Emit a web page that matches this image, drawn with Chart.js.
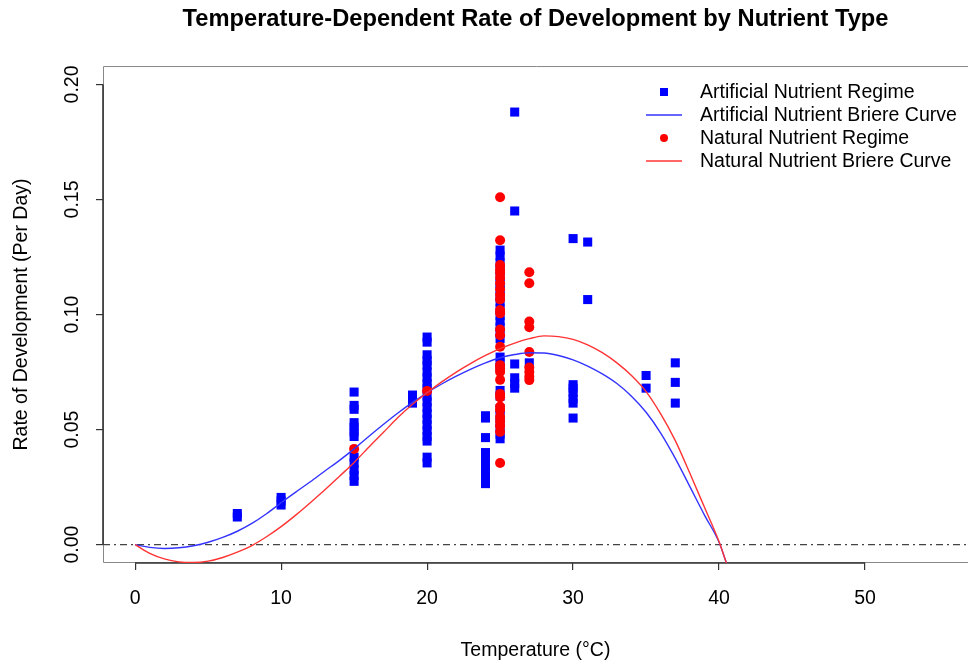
<!DOCTYPE html>
<html>
<head>
<meta charset="utf-8">
<script src="https://cdn.jsdelivr.net/npm/chart.js@4.4.1/dist/chart.umd.min.js"></script>
<style>
  html, body { margin: 0; padding: 0; background: #ffffff; }
  #wrap { width: 968px; height: 667px; }
</style>
</head>
<body>
<div id="wrap"><canvas id="c" width="968" height="667"></canvas></div>
<script>
// ---------------- DATA ----------------
const TITLE = "Temperature-Dependent Rate of Development by Nutrient Type";
const X_TITLE = "Temperature (°C)";
const Y_TITLE = "Rate of Development (Per Day)";

const X_TICKS = [0, 10, 20, 30, 40, 50];
const X_TICK_LABELS = ["0", "10", "20", "30", "40", "50"];
const Y_TICKS = [0, 0.05, 0.10, 0.15, 0.20];
const Y_TICK_LABELS = ["0.00", "0.05", "0.10", "0.15", "0.20"];

const LEGEND_LABELS = [
  "Artificial Nutrient Regime",
  "Artificial Nutrient Briere Curve",
  "Natural Nutrient Regime",
  "Natural Nutrient Briere Curve"
];

// Artificial nutrient regime observations (temperature, rate)
const ART_T = [
  7, 7,
  10, 10, 10,
  15, 15, 15, 15, 15, 15, 15, 15, 15, 15, 15, 15,
  19, 19,
  20, 20, 20, 20, 20, 20, 20, 20, 20, 20, 20, 20, 20, 20, 20, 20, 20, 20, 20, 20,
  24, 24, 24, 24, 24, 24, 24, 24, 24, 24,
  25, 25, 25, 25, 25, 25, 25, 25, 25, 25, 25, 25, 25, 25, 25, 25, 25, 25, 25, 25, 25, 25, 25, 25, 25, 25,
  26, 26, 26, 26, 26, 26,
  27,
  30, 30, 30, 30, 30, 30, 30,
  31, 31,
  35, 35,
  37, 37, 37
];
const ART_V = [
  0.0135, 0.0120,
  0.0205, 0.0190, 0.0172,
  0.0663, 0.0605, 0.0588, 0.0530, 0.0510, 0.0490, 0.0470, 0.0380, 0.0355, 0.0325, 0.0300, 0.0275,
  0.0650, 0.0615,
  0.0902, 0.0880, 0.0825, 0.0800, 0.0780, 0.0750, 0.0725, 0.0700, 0.0680, 0.0645, 0.0620, 0.0595, 0.0570, 0.0545, 0.0520, 0.0495, 0.0470, 0.0450, 0.0380, 0.0355,
  0.0560, 0.0550, 0.0465, 0.0400, 0.0375, 0.0350, 0.0330, 0.0300, 0.0280, 0.0265,
  0.1280, 0.1255, 0.1225, 0.1195, 0.1165, 0.1135, 0.1110, 0.1080, 0.1055, 0.1025, 0.0995, 0.0970, 0.0945, 0.0920, 0.0895, 0.0815, 0.0790, 0.0770, 0.0670, 0.0645, 0.0590, 0.0560, 0.0530, 0.0505, 0.0480, 0.0460,
  0.1880, 0.1450, 0.0785, 0.0725, 0.0700, 0.0680,
  0.0790,
  0.1330, 0.0695, 0.0680, 0.0660, 0.0635, 0.0615, 0.0550,
  0.1315, 0.1065,
  0.0735, 0.0680,
  0.0790, 0.0705, 0.0615
];

// Natural nutrient regime observations (temperature, rate)
const NAT_T = [
  15,
  20,
  25, 25, 25, 25, 25, 25, 25, 25, 25, 25, 25, 25, 25, 25, 25, 25, 25, 25, 25, 25, 25, 25, 25, 25, 25, 25, 25, 25,
  27, 27, 27, 27, 27, 27, 27, 27, 27
];
const NAT_V = [
  0.0416,
  0.0668,
  0.1510, 0.1323, 0.1215, 0.1195, 0.1180, 0.1160, 0.1136, 0.1110, 0.1085, 0.1065, 0.1020, 0.1005, 0.0935, 0.0910, 0.0860, 0.0780, 0.0765, 0.0750, 0.0716, 0.0655, 0.0640, 0.0600, 0.0585, 0.0555, 0.0535, 0.0515, 0.0490, 0.0355,
  0.1184, 0.1136, 0.0970, 0.0945, 0.0837, 0.0770, 0.0750, 0.0730, 0.0715
];

// Fitted Briere curves, values at these temperatures
const CURVE_T = [0, 1, 2, 3, 4, 5, 6, 7, 8, 9, 10, 11, 12, 13, 14, 15, 16, 17, 18, 19, 20,
                 21, 22, 23, 24, 25, 26, 27, 28, 29, 30, 31, 32, 33, 34, 35, 36, 37, 38, 39, 40, 40.5];
const ART_CURVE = [0, -0.0012, -0.0017, -0.0014, -0.0005, 0.0010, 0.0031, 0.0058, 0.0092, 0.0134, 0.0182,
                   0.0228, 0.0273, 0.0320, 0.0366, 0.0416, 0.0470, 0.0522, 0.0572, 0.0618, 0.0660,
                   0.0698, 0.0732, 0.0763, 0.0790, 0.0812, 0.0826, 0.0834, 0.0833, 0.0822, 0.0803,
                   0.0776, 0.0742, 0.0700, 0.0645, 0.0575, 0.0485, 0.0375, 0.0252, 0.0128, 0.0010, -0.0080];
const NAT_CURVE = [0, -0.0038, -0.0062, -0.0075, -0.0078, -0.0072, -0.0056, -0.0033, -0.0004, 0.0034, 0.0078,
                   0.0128, 0.0182, 0.0238, 0.0297, 0.0357, 0.0423, 0.0487, 0.0552, 0.0610, 0.0660,
                   0.0707, 0.0750, 0.0788, 0.0822, 0.0852, 0.0876, 0.0895, 0.0907, 0.0904, 0.0892,
                   0.0868, 0.0834, 0.0790, 0.0735, 0.0665, 0.0568, 0.0452, 0.0310, 0.0162, 0.0012, -0.0080];

// Reference line at zero rate (abline h = 0)
const HLINE_Y = 0;

// Axis ranges
const X_MIN = -2.2, X_MAX = 57.05;
const Y_MIN = -0.008, Y_MAX = 0.208;

// ---------------- build ----------------
const FONT = "'Liberation Sans', Arial, Helvetica, sans-serif";
const BLUE = "#0000ff";
const RED = "#ff0000";

const toXY = (xs, ys) => xs.map((x, i) => ({ x: x, y: ys[i] }));

const frame = {
  id: "rframe",
  beforeDatasetsDraw(chart) {
    const { ctx, chartArea: a, scales: { x, y } } = chart;
    ctx.save();
    ctx.strokeStyle = "#888888";
    ctx.lineWidth = 1;
    ctx.beginPath();
    ctx.moveTo(a.right + 5, a.top + 0.5);
    ctx.lineTo(a.left + 0.5, a.top + 0.5);
    ctx.lineTo(a.left + 0.5, a.bottom - 0.5);
    ctx.lineTo(a.right + 5, a.bottom - 0.5);
    ctx.stroke();
    ctx.strokeStyle = "#333333";
    ctx.lineWidth = 1.6;
    ctx.beginPath();
    ctx.moveTo(x.getPixelForValue(X_TICKS[0]), a.bottom);
    ctx.lineTo(x.getPixelForValue(X_TICKS[X_TICKS.length - 1]), a.bottom);
    ctx.moveTo(a.left, y.getPixelForValue(Y_TICKS[0]));
    ctx.lineTo(a.left, y.getPixelForValue(Y_TICKS[Y_TICKS.length - 1]));
    ctx.stroke();
    ctx.restore();
  }
};

const legendPlugin = {
  id: "rlegend",
  afterDraw(chart) {
    const { ctx } = chart;
    const ds = chart.data.datasets;
    const items = [ds[0], ds[3], ds[1], ds[4]];
    const x0 = 646, x1 = 682, xm = 664, xt = 700, y0 = 92, dy = 23;
    ctx.save();
    ctx.font = "19.5px " + FONT;
    ctx.textBaseline = "middle";
    ctx.textAlign = "left";
    items.forEach((d, i) => {
      const yy = y0 + i * dy;
      if (d.showLine) {
        ctx.strokeStyle = d.borderColor;
        ctx.lineWidth = d.borderWidth;
        ctx.beginPath();
        ctx.moveTo(x0, yy);
        ctx.lineTo(x1, yy);
        ctx.stroke();
      } else if (d.pointStyle === "rect") {
        ctx.fillStyle = d.backgroundColor;
        ctx.fillRect(xm - 4, yy - 4, 8, 8);
      } else {
        ctx.fillStyle = d.backgroundColor;
        ctx.beginPath();
        ctx.arc(xm, yy, 4, 0, Math.PI * 2);
        ctx.fill();
      }
      ctx.fillStyle = "#000000";
      ctx.fillText(LEGEND_LABELS[i], xt, yy + 1);
    });
    ctx.restore();
  }
};

const noPad = s => { s.paddingLeft = 0; s.paddingRight = 0; s.paddingTop = 0; s.paddingBottom = 0; };

new Chart(document.getElementById("c"), {
  type: "scatter",
  data: {
    datasets: [
      { label: LEGEND_LABELS[0], data: toXY(ART_T, ART_V), pointStyle: "rect", pointRadius: 6.4,
        backgroundColor: BLUE, borderColor: BLUE, borderWidth: 0, order: 4 },
      { label: LEGEND_LABELS[2], data: toXY(NAT_T, NAT_V), pointStyle: "circle", pointRadius: 5,
        backgroundColor: RED, borderColor: RED, borderWidth: 0, order: 3 },
      { label: "zero", data: [{ x: X_MIN, y: HLINE_Y }, { x: X_MAX, y: HLINE_Y }], showLine: true, pointRadius: 0,
        borderColor: "#444444", borderWidth: 1.4, borderDash: [7, 4, 2, 4], order: 2 },
      { label: LEGEND_LABELS[1], data: toXY(CURVE_T, ART_CURVE), showLine: true, pointRadius: 0,
        borderColor: "#3333ff", backgroundColor: "#3333ff", borderWidth: 1.4, cubicInterpolationMode: "monotone", order: 1 },
      { label: LEGEND_LABELS[3], data: toXY(CURVE_T, NAT_CURVE), showLine: true, pointRadius: 0,
        borderColor: "#ff3333", backgroundColor: "#ff3333", borderWidth: 1.4, cubicInterpolationMode: "monotone", order: 0 }
    ]
  },
  options: {
    responsive: false,
    animation: false,
    devicePixelRatio: 1,
    layout: { padding: 0, autoPadding: false },
    font: { family: FONT },
    plugins: {
      legend: { display: false },
      tooltip: { enabled: false },
      title: {
        display: true,
        text: TITLE,
        fullSize: false,
        color: "#000000",
        font: { family: FONT, size: 23.7, weight: "bold" },
        padding: { top: 5, bottom: 32.6 }
      }
    },
    scales: {
      x: {
        type: "linear",
        min: X_MIN, max: X_MAX,
        afterFit: s => { s.height = 104; noPad(s); },
        afterBuildTicks: s => { s.ticks = X_TICKS.map(v => ({ value: v })); },
        ticks: {
          color: "#000000",
          font: { family: FONT, size: 19.5 },
          padding: 17,
          maxRotation: 0,
          autoSkip: false,
          callback: (v, i) => X_TICK_LABELS[i]
        },
        grid: { display: true, drawOnChartArea: false, drawTicks: true, tickLength: 7, color: "#333333", lineWidth: 1.2 },
        border: { display: false },
        title: { display: true, text: X_TITLE, color: "#000000", font: { family: FONT, size: 19.5 }, padding: { top: 0, bottom: 5 } }
      },
      y: {
        type: "linear",
        min: Y_MIN, max: Y_MAX,
        afterFit: s => { s.width = 103; noPad(s); },
        afterBuildTicks: s => { s.ticks = Y_TICKS.map(v => ({ value: v })); },
        ticks: {
          color: "#000000",
          font: { family: FONT, size: 19.5 },
          padding: 4,
          minRotation: 90,
          maxRotation: 90,
          crossAlign: "center",
          autoSkip: false,
          callback: (v, i) => Y_TICK_LABELS[i]
        },
        grid: { display: true, drawOnChartArea: false, drawTicks: true, tickLength: 7, color: "#333333", lineWidth: 1.2 },
        border: { display: false },
        title: { display: true, text: Y_TITLE, color: "#000000", font: { family: FONT, size: 19.5 }, padding: { top: 10, bottom: 0 } }
      }
    }
  },
  plugins: [frame, legendPlugin]
});
</script>
</body>
</html>
